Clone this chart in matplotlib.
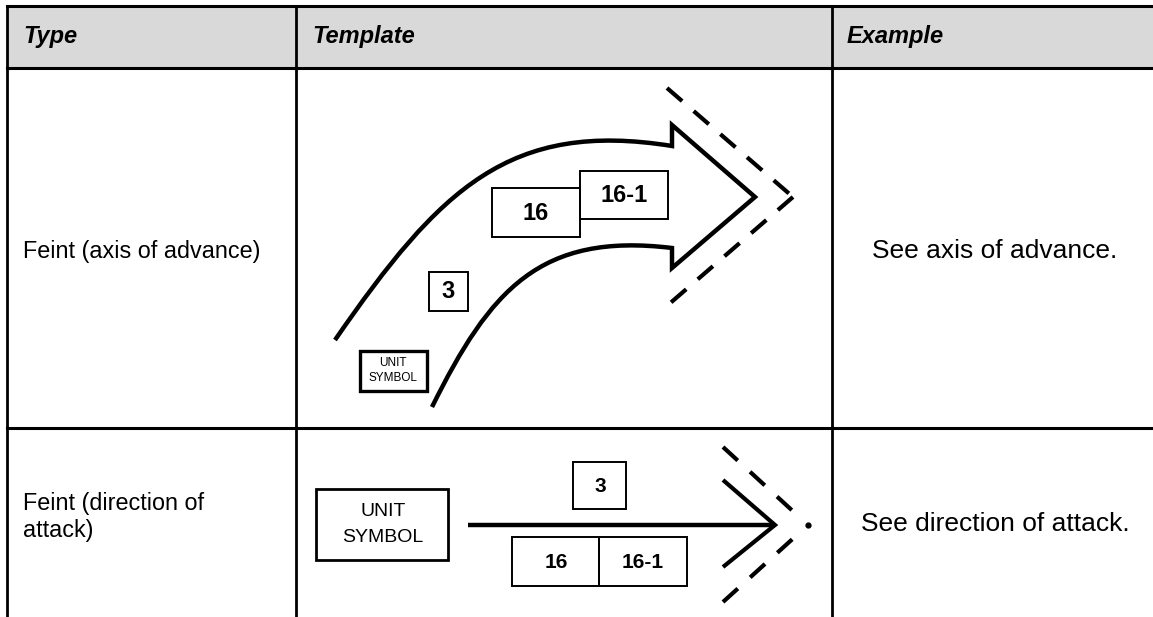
import matplotlib
matplotlib.use("Agg")
from matplotlib import pyplot as plt
from matplotlib.path import Path
from matplotlib.patches import PathPatch, Rectangle

plt.rcParams['font.family'] = ['Liberation Sans', 'DejaVu Sans']
plt.rcParams['lines.scale_dashes'] = False

# table text
headers = ['Type', 'Template', 'Example']
header_x = [23, 312, 847]
row_labels = [['Feint (axis of advance)'], ['Feint (direction of', 'attack)']]
row_label_y = [[258], [510, 537]]
examples = ['See axis of advance.', 'See direction of attack.']
example_y = [258, 531]

# table grid (pixel coords)
col_x = [7, 296, 832]
top_y, head_y, row_y = 6, 68, 428
W, H = 1153, 617

fig = plt.figure(figsize=(W / 100, H / 100), dpi=100)
ax = fig.add_axes([0, 0, 1, 1])
ax.set_xlim(0, W)
ax.set_ylim(H, 0)
ax.axis('off')

ax.add_patch(Rectangle((col_x[0], top_y), W - col_x[0], head_y - top_y,
                       facecolor='#d9d9d9', edgecolor='none'))
ax.plot([col_x[0], W], [top_y, top_y], color='k', lw=2.2)
ax.plot([col_x[0], W], [head_y, head_y], color='k', lw=2.2)
ax.plot([col_x[0], W], [row_y, row_y], color='k', lw=2.2)
for x in col_x:
    ax.plot([x, x], [top_y, H], color='k', lw=2.0)

for h, x in zip(headers, header_x):
    ax.text(x, 43, h, fontsize=17, fontweight='bold', fontstyle='italic', va='baseline')

for lines, ys in zip(row_labels, row_label_y):
    for s, y in zip(lines, ys):
        ax.text(23, y, s, fontsize=16.8, va='baseline')

for s, y in zip(examples, example_y):
    ax.text(995, y, s, fontsize=19, ha='center', va='baseline')


def box(x0, y0, x1, y1, lw=1.4):
    ax.add_patch(Rectangle((x0, y0), x1 - x0, y1 - y0, fill=False, edgecolor='k', lw=lw))


def label(x, y, s, size, bold=True):
    ax.text(x, y, s, fontsize=size, fontweight='bold' if bold else 'normal',
            ha='center', va='center')


def dashed_leg(p0, p1, frac=1.0, lw=3, dash=(14.4, 11)):
    x1 = p0[0] + (p1[0] - p0[0]) * frac
    y1 = p0[1] + (p1[1] - p0[1]) * frac
    ax.plot([p0[0], x1], [p0[1], y1], color='k', lw=lw,
            dashes=dash, solid_capstyle='butt', dash_capstyle='butt')


# ---- row 1: curved axis of advance ----
up0, up1, up2, up3 = (335, 340), (440, 188), (510, 120), (672, 146)
lo0, lo1, lo2, lo3 = (432, 407), (490, 290), (540, 232), (672, 248)
verts = [up0, up1, up2, up3,
         (672, 125), (755, 197), (672, 268), lo3,
         lo2, lo1, lo0]
codes = [Path.MOVETO, Path.CURVE4, Path.CURVE4, Path.CURVE4,
         Path.LINETO, Path.LINETO, Path.LINETO, Path.LINETO,
         Path.CURVE4, Path.CURVE4, Path.CURVE4]
ax.add_patch(PathPatch(Path(verts, codes), fill=False, edgecolor='k', lw=3.2,
                       capstyle='butt', joinstyle='miter'))

tip1 = (793, 197)
dashed_leg((667, 88), tip1)
dashed_leg(tip1, (668, 305))

box(492, 188, 580, 237)
label(536, 213, '16', 17)
box(580, 171, 668, 219)
label(624, 195, '16-1', 17)
box(429, 272, 468, 311)
label(448, 292, '3', 17)
box(360, 351, 427, 391, lw=2.4)
label(393, 363, 'UNIT', 8.5, bold=False)
label(393, 378, 'SYMBOL', 8.5, bold=False)

# ---- row 2: direction of attack ----
ax.plot([468, 775], [525, 525], color='k', lw=3.2, solid_capstyle='butt')
ax.plot([723, 775, 723], [480, 525, 567], color='k', lw=3,
        solid_joinstyle='miter', solid_capstyle='butt')
tip2 = (808, 525)
dashed_leg((723, 447), tip2, frac=0.82, dash=(14.4, 12))
dashed_leg((723, 602), tip2, frac=0.82, dash=(14.4, 12))
ax.plot(*tip2, marker='o', ms=3.5, color='k')

box(316, 489, 448, 560, lw=2.0)
label(383, 511, 'UNIT', 14, bold=False)
label(383, 537, 'SYMBOL', 14, bold=False)
box(573, 462, 626, 509)
label(600, 487, '3', 15)
box(512, 537, 599, 586)
box(599, 537, 687, 586)
label(556, 562, '16', 15)
label(643, 562, '16-1', 15)

fig.savefig('out.png', dpi=100)
